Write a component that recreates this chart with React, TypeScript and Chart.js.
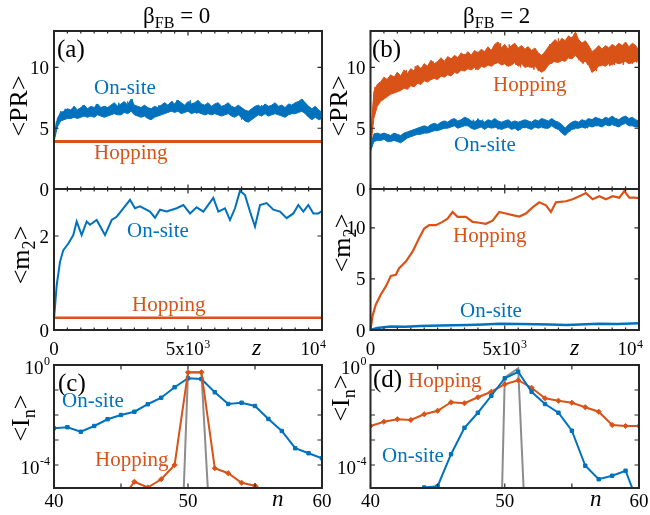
import React, { useEffect, useRef } from 'react';
import { Chart, registerables } from 'chart.js';
Chart.register(...registerables);

const BLUE = '#0072BD';
const ORANGE = '#D95319';
const GRAY = '#8C8C8C';
const AXIS = '#262626';
const FONT = '"Liberation Serif", "Times New Roman", serif';

// ---------- (a) <PR>, beta_FB = 0 : fluctuation band (upper / lower edge), uniform z grid 0..1e4 ----------
const prOnsiteAUp = [4.1, 5.8, 6.3, 6.4, 6.6, 6.5, 6.8, 6.5, 6.7, 6.9, 6.6, 6.8, 6.7, 7.0, 6.7, 6.8, 6.7, 6.9, 7.1, 6.8,
  7.0, 7.2, 6.9, 7.4, 6.9, 6.8, 6.7, 6.9, 6.7, 6.6, 6.8, 6.7, 6.9, 7.1, 6.9, 7.2, 7.0, 7.3, 7.1, 6.9,
  7.2, 7.0, 7.1, 7.3, 7.0, 6.9, 7.1, 6.8, 7.0, 7.1, 6.8, 6.9, 7.1, 6.8, 6.7, 6.9, 6.7, 6.5, 6.4, 6.6,
  6.8, 6.9, 6.7, 7.0, 6.8, 6.9, 7.1, 6.8, 6.9, 6.7, 7.0, 6.9, 7.1, 7.2, 7.4, 7.1, 6.8, 6.6, 6.8, 6.5, 6.3];
const prOnsiteALow = [3.9, 5.1, 5.6, 5.7, 5.8, 5.8, 5.9, 5.8, 5.9, 6.0, 5.9, 6.0, 5.9, 6.1, 6.0, 5.9, 6.0, 6.1, 6.2, 6.1,
  6.1, 6.3, 6.2, 6.4, 6.1, 6.0, 5.9, 6.0, 5.8, 5.7, 5.9, 6.0, 6.1, 6.2, 6.3, 6.4, 6.3, 6.4, 6.2, 6.3,
  6.4, 6.2, 6.3, 6.3, 6.2, 6.1, 6.2, 6.1, 6.2, 6.1, 6.0, 6.1, 6.2, 6.0, 5.9, 6.1, 5.9, 5.6, 5.5, 5.7,
  5.9, 6.1, 6.0, 6.2, 6.0, 6.1, 6.2, 6.1, 6.0, 5.9, 6.1, 6.2, 6.2, 6.3, 6.4, 6.2, 5.9, 5.7, 5.9, 5.7, 5.8];
// fast fluctuations on top of the band
const prOnsiteA = [4.0, 5.5, 5.7, 6.4, 5.9, 6.6, 6.0, 6.5, 6.1, 6.8, 6.0, 6.6, 6.1, 6.9, 6.2, 6.6, 6.0, 6.7, 6.3, 7.0,
  6.1, 6.6, 6.2, 6.8, 6.0, 6.7, 6.3, 6.9, 6.2, 7.1, 6.3, 6.8, 6.4, 7.2, 6.5, 7.4, 6.3, 6.8, 6.1, 6.7,
  6.2, 6.6, 6.0, 6.5, 5.9, 6.6, 6.1, 6.9, 6.3, 7.0, 6.4, 6.9, 6.5, 7.2, 6.4, 7.3, 6.6, 7.0, 6.3, 6.9,
  6.5, 7.3, 6.4, 7.0, 6.2, 6.8, 6.3, 6.9, 6.1, 6.7, 6.2, 6.9, 6.3, 6.7, 6.1, 6.8, 6.4, 7.0, 6.2, 6.7,
  6.0, 6.6, 6.1, 6.5, 5.7, 6.3, 5.8, 6.4, 5.9, 6.6, 6.1, 6.8, 6.2, 6.9, 6.3, 6.7, 6.1, 6.8, 6.3, 7.0,
  6.2, 6.8, 6.1, 6.6, 6.3, 6.9, 6.2, 7.0, 6.4, 7.1, 6.5, 7.4, 6.4, 7.0, 6.2, 6.6, 5.9, 6.5, 6.0, 6.4, 6.1];
const prHopZA = [0, 10000];
const prHopA = [3.9, 3.9];

// ---------- (b) <PR>, beta_FB = 2 : fluctuation bands ----------
const prHopBUp = [3.6, 8.0, 8.6, 8.8, 9.2, 9.0, 9.4, 9.2, 9.6, 9.3, 9.8, 9.5, 9.9, 9.7, 10.2, 9.9, 10.3, 10.1, 10.6, 10.3,
  10.5, 10.8, 10.5, 10.9, 10.7, 11.0, 10.8, 11.2, 11.0, 11.3, 11.0, 11.4, 11.2, 11.5, 11.3, 11.7, 11.4, 11.9, 12.1, 11.6,
  11.9, 11.5, 11.8, 12.0, 11.6, 11.8, 11.5, 11.7, 11.4, 11.6, 11.2, 11.0, 11.3, 11.7, 12.0, 12.3, 12.0, 12.4, 12.2, 12.6,
  12.4, 12.9, 12.3, 12.0, 12.2, 11.8, 11.3, 11.5, 11.8, 11.5, 11.8, 11.6, 11.9, 11.7, 12.0, 11.8, 12.1, 11.7, 12.0, 11.8, 11.4];
const prHopBLow = [3.3, 5.8, 6.8, 7.2, 7.4, 7.6, 7.8, 7.9, 8.0, 8.1, 8.3, 8.2, 8.5, 8.4, 8.7, 8.6, 8.9, 8.8, 9.0, 9.1,
  9.0, 9.3, 9.2, 9.4, 9.3, 9.6, 9.5, 9.8, 9.7, 9.9, 9.8, 10.0, 9.8, 10.1, 10.0, 10.2, 10.1, 10.3, 10.4, 10.2,
  10.3, 10.1, 10.2, 10.4, 10.1, 10.3, 10.0, 10.1, 10.0, 10.1, 9.8, 9.6, 9.8, 10.2, 10.4, 10.5, 10.4, 10.6, 10.5, 10.8,
  10.7, 11.0, 10.7, 10.4, 10.5, 10.2, 9.6, 9.8, 10.1, 10.2, 10.1, 10.3, 10.2, 10.4, 10.3, 10.4, 10.5, 10.3, 10.4, 10.5, 10.6];
const prHopB = [3.4, 6.6, 8.4, 7.0, 8.8, 7.3, 9.0, 7.6, 9.2, 7.8, 9.3, 8.0, 9.6, 8.1, 9.4, 8.3, 9.8, 8.4, 9.7, 8.6,
  10.1, 8.7, 10.0, 8.8, 10.3, 8.9, 10.2, 9.0, 10.5, 9.1, 10.4, 9.2, 10.6, 9.3, 10.7, 9.4, 10.6, 9.5, 10.9, 9.6,
  11.0, 9.7, 11.1, 9.8, 11.2, 9.9, 11.1, 9.8, 11.3, 10.0, 11.2, 10.1, 11.5, 10.2, 11.4, 10.3, 11.8, 10.4, 12.0, 10.2,
  11.6, 10.1, 11.9, 10.3, 11.7, 10.2, 11.6, 10.0, 11.5, 10.1, 11.7, 10.0, 11.4, 9.8, 11.1, 9.7, 11.0, 9.8, 11.3, 10.2,
  11.9, 10.3, 12.1, 10.4, 12.4, 10.5, 12.0, 10.6, 12.3, 10.7, 12.5, 10.9, 12.8, 10.6, 11.9, 10.3, 11.8, 10.2, 11.6, 9.6,
  11.2, 9.7, 11.5, 10.1, 11.6, 10.2, 11.7, 10.1, 11.5, 10.2, 11.8, 10.3, 11.7, 10.2, 11.9, 10.4, 11.6, 10.3, 11.8, 10.4, 11.1];
const prOnsiteBUp = [3.5, 4.5, 4.6, 4.5, 4.6, 4.5, 4.4, 4.6, 4.5, 4.4, 4.6, 4.7, 4.8, 4.9, 5.0, 5.1, 5.2, 5.1, 5.3, 5.4,
  5.3, 5.5, 5.6, 5.5, 5.7, 5.8, 5.6, 5.7, 5.9, 5.8, 5.6, 5.5, 5.7, 5.6, 5.5, 5.7, 5.6, 5.8, 5.6, 5.5,
  5.6, 5.7, 5.5, 5.6, 5.5, 5.6, 5.7, 5.6, 5.5, 5.7, 5.6, 5.8, 5.7, 5.6, 5.8, 5.6, 5.5, 5.3, 5.0, 5.3,
  5.5, 5.6, 5.5, 5.7, 5.6, 5.8, 5.7, 5.9, 5.8, 5.7, 5.9, 5.8, 6.0, 5.8, 5.7, 5.9, 6.0, 5.8, 5.9, 5.7, 5.6];
const prOnsiteBLow = [3.1, 3.9, 4.0, 4.0, 4.1, 3.9, 3.9, 4.0, 3.9, 3.8, 4.0, 4.2, 4.3, 4.4, 4.5, 4.5, 4.6, 4.6, 4.7, 4.8,
  4.8, 4.9, 5.0, 5.0, 5.1, 5.2, 5.0, 5.1, 5.2, 5.2, 5.0, 4.9, 5.0, 5.1, 4.9, 5.1, 5.0, 5.1, 5.0, 4.9,
  5.0, 5.1, 4.9, 5.0, 4.8, 5.0, 5.1, 5.0, 4.9, 5.1, 5.0, 5.1, 5.0, 5.0, 5.2, 5.0, 4.9, 4.6, 4.4, 4.7,
  4.9, 5.0, 5.0, 5.1, 5.0, 5.2, 5.1, 5.2, 5.2, 5.1, 5.3, 5.2, 5.3, 5.2, 5.1, 5.3, 5.4, 5.2, 5.2, 5.1, 5.1];
const prOnsiteB = [3.3, 4.2, 4.6, 4.1, 4.5, 4.0, 4.6, 4.2, 4.5, 4.1, 4.4, 4.0, 4.3, 3.9, 4.4, 4.1, 4.6, 4.3, 4.8, 4.4,
  4.9, 4.5, 4.8, 4.6, 5.0, 4.7, 5.1, 4.8, 5.2, 4.9, 5.2, 4.9, 5.3, 5.0, 5.4, 5.1, 5.5, 5.2, 5.6, 5.1,
  5.5, 5.2, 5.7, 5.3, 5.6, 5.2, 5.7, 5.3, 5.8, 5.4, 5.7, 5.3, 5.6, 5.2, 5.5, 5.0, 5.3, 4.9, 5.4, 5.0,
  5.5, 5.1, 5.4, 5.0, 5.5, 5.1, 5.3, 4.9, 5.4, 5.0, 5.5, 5.1, 5.4, 5.2, 5.6, 5.1, 5.5, 5.0, 5.4, 5.1,
  5.5, 5.2, 5.6, 5.0, 5.3, 4.8, 5.0, 4.5, 4.9, 4.7, 5.2, 4.9, 5.4, 5.0, 5.3, 5.1, 5.5, 5.0, 5.4, 5.1,
  5.6, 5.2, 5.5, 5.1, 5.6, 5.3, 5.7, 5.2, 5.6, 5.3, 5.8, 5.3, 5.7, 5.4, 5.9, 5.3, 5.7, 5.2, 5.6, 5.3, 5.2];

// ---------- (a) <m2>, beta_FB = 0 ----------
const m2ZA = [0, 100, 224, 348, 535, 721, 846, 1032, 1219, 1343, 1592, 1903, 2152, 2338, 2587, 2836, 3022, 3209, 3582, 3769,
  3955, 4204, 4577, 4826, 5075, 5323, 5572, 5945, 6132, 6381, 6567, 6754, 6940, 7127, 7313, 7500, 7687, 7935, 8184, 8433,
  8682, 8930, 9117, 9303, 9490, 9677, 9863, 10000];
const m2OnsiteA = [0.23, 0.95, 1.45, 1.70, 1.84, 2.02, 2.31, 2.02, 2.31, 2.24, 2.34, 2.02, 2.34, 2.41, 2.59, 2.77, 2.59, 2.63, 2.52, 2.39,
  2.56, 2.52, 2.59, 2.66, 2.48, 2.61, 2.52, 2.81, 2.52, 2.59, 2.34, 2.59, 2.96, 2.87, 2.52, 2.20, 2.66, 2.70, 2.56, 2.52,
  2.38, 2.48, 2.66, 2.52, 2.66, 2.48, 2.48, 2.53];
const m2HopZA = [0, 10000];
const m2HopA = [0.26, 0.26];

// ---------- (b) <m2>, beta_FB = 2 ----------
const m2ZB = [0, 75, 199, 385, 571, 758, 944, 1068, 1317, 1565, 1814, 2000, 2186, 2435, 2683, 2870, 3056, 3242, 3553, 3801,
  4050, 4298, 4547, 4795, 5043, 5292, 5540, 5789, 6037, 6286, 6534, 6720, 6907, 7280, 7528, 7776, 8025, 8273, 8522, 8770,
  9019, 9267, 9453, 9640, 9826, 10000];
const m2HopB = [0, 1.36, 2.5, 3.47, 4.27, 5.3, 5.4, 6.05, 6.7, 7.67, 9.0, 9.93, 10.26, 10.26, 10.58, 10.9, 11.55, 11.07, 11.07, 10.58,
  10.5, 10.4, 10.7, 11.55, 11.4, 11.25, 11.1, 11.4, 12.0, 12.5, 12.2, 11.55, 12.5, 12.6, 12.8, 13.1, 13.4, 12.8, 13.1, 12.8,
  13.1, 12.95, 13.6, 12.95, 12.95, 12.9];
const m2OnZB = [0, 250, 750, 1300, 1850, 2600, 3600, 4200, 4800, 5600, 6700, 7300, 8500, 9200, 10000];
const m2OnsiteB = [0, 0.2, 0.35, 0.33, 0.4, 0.45, 0.5, 0.55, 0.6, 0.58, 0.55, 0.5, 0.6, 0.58, 0.65];

// ---------- (c), (d) <I_n> profiles (log10 values) ----------
const nSites = [40, 41, 42, 43, 44, 45, 46, 47, 48, 49, 50, 51, 52, 53, 54, 55, 56, 57, 58, 59, 60];
const logOnsiteC = [-2.53, -2.49, -2.67, -2.44, -2.17, -2.0, -1.87, -1.57, -1.31, -0.89, -0.53, -0.56, -1.09, -1.56, -1.51, -1.64, -2.16, -2.64, -3.33, -3.53, -3.73];
const nHopC = [45, 46, 47, 48, 49, 50, 51, 52, 53, 54, 55, 56];
const logHopC = [-5.4, -4.67, -4.9, -4.57, -4.0, -0.29, -0.29, -4.13, -4.33, -4.71, -4.83, -5.15];
const nInitC = [49, 50, 51, 52];
const logInitC = [-15, -0.3, -0.3, -10];

const logHopD = [-2.44, -2.27, -2.17, -2.2, -1.97, -1.83, -1.49, -1.53, -1.29, -1.07, -0.77, -0.61, -0.91, -1.33, -1.43, -1.51, -1.69, -1.87, -2.4, -2.44, -2.44];
const nOnD = [44, 45, 46, 47, 48, 49, 50, 51, 52, 53, 54, 55, 56, 57, 58, 59, 60];
const logOnsiteD = [-4.9, -4.85, -3.57, -2.51, -1.91, -1.23, -0.53, -0.27, -1.07, -1.56, -1.91, -2.63, -4.03, -4.57, -4.43, -4.23, -5.63];
const nInitD = [49, 50, 51, 52];
const logInitD = [-23, -0.5, -0.13, -12];

// ---------- helpers ----------
const uniform = (vals: number[]) => vals.map((y, i) => ({ x: (i * 10000) / (vals.length - 1), y }));
const pairs = (xs: number[], ys: number[]) => xs.map((x, i) => ({ x, y: ys[i] }));
const pairsLog = (xs: number[], ys: number[]) => xs.map((x, i) => ({ x, y: Math.pow(10, ys[i]) }));

type Rect = { l: number; t: number; r: number; b: number };
type TL = { v: number; base: string; sup?: string; right?: boolean };
type PanelCfg = {
  rect: Rect;
  xMin: number; xMax: number; yMin: number; yMax: number; log?: boolean;
  datasets: any[];
  xMajor: number[]; xMinor: number[]; yMajor: number[]; yMinor: number[];
  xLabels?: TL[]; xBase?: number; yLabels?: TL[];
};

const supFont = `12px ${FONT}`;
const baseFont = `19px ${FONT}`;

function drawLabel(ctx: CanvasRenderingContext2D, lab: TL, x: number, y: number, align: 'left' | 'right' | 'center', supDy: number) {
  ctx.font = baseFont;
  const wb = ctx.measureText(lab.base).width;
  ctx.font = supFont;
  const ws = lab.sup ? ctx.measureText(lab.sup).width + 0.5 : 0;
  const w = wb + ws;
  let x0 = x - w / 2;
  if (align === 'right') x0 = x - w;
  if (align === 'left') x0 = x;
  ctx.textAlign = 'left';
  ctx.textBaseline = 'alphabetic';
  ctx.fillStyle = '#000';
  ctx.font = baseFont;
  ctx.fillText(lab.base, x0, y);
  if (lab.sup) {
    ctx.font = supFont;
    ctx.fillText(lab.sup, x0 + wb + 0.5, y - supDy);
  }
}

function makeFrame(cfg: PanelCfg) {
  return {
    id: 'frame',
    afterDatasetsDraw(chart: any) {
      const ctx: CanvasRenderingContext2D = chart.ctx;
      const { left, right, top, bottom } = chart.chartArea;
      const xs = chart.scales.x;
      const ys = chart.scales.y;
      ctx.save();
      ctx.strokeStyle = AXIS;
      ctx.lineWidth = 1.2;
      ctx.beginPath();
      const tickX = (v: number, len: number) => {
        const p = xs.getPixelForValue(v);
        ctx.moveTo(p, bottom); ctx.lineTo(p, bottom - len);
        ctx.moveTo(p, top); ctx.lineTo(p, top + len);
      };
      const tickY = (v: number, len: number) => {
        const p = ys.getPixelForValue(v);
        ctx.moveTo(left, p); ctx.lineTo(left + len, p);
        ctx.moveTo(right, p); ctx.lineTo(right - len, p);
      };
      cfg.xMinor.forEach((v) => tickX(v, 2.5));
      cfg.xMajor.forEach((v) => tickX(v, 4.5));
      cfg.yMinor.forEach((v) => tickY(v, 2.5));
      cfg.yMajor.forEach((v) => tickY(v, 4.5));
      ctx.stroke();
      ctx.lineWidth = 2;
      ctx.strokeRect(left, top, right - left, bottom - top);
      (cfg.yLabels || []).forEach((lab) => {
        const p = ys.getPixelForValue(lab.v);
        if (lab.sup) drawLabel(ctx, lab, left - 4, p + 9, 'right', 9);
        else drawLabel(ctx, lab, left - 5, p + 6.5, 'right', 0);
      });
      (cfg.xLabels || []).forEach((lab) => {
        const p = xs.getPixelForValue(lab.v);
        if (lab.right) drawLabel(ctx, lab, p + 4, cfg.xBase || 0, 'right', 7);
        else drawLabel(ctx, lab, p, cfg.xBase || 0, 'center', 7);
      });
      ctx.restore();
    },
  };
}

function Panel({ cfg }: { cfg: PanelCfg }) {
  const ref = useRef<HTMLCanvasElement>(null);
  useEffect(() => {
    const { l, t, r, b } = cfg.rect;
    const chart = new Chart(ref.current as HTMLCanvasElement, {
      type: 'line',
      data: { datasets: cfg.datasets },
      options: {
        responsive: false,
        animation: false,
        layout: { padding: { left: l, top: t, right: 650 - r, bottom: 515 - b } },
        scales: {
          x: { type: 'linear', min: cfg.xMin, max: cfg.xMax, display: false },
          y: { type: cfg.log ? 'logarithmic' : 'linear', min: cfg.yMin, max: cfg.yMax, display: false },
        },
        plugins: { legend: { display: false }, tooltip: { enabled: false } },
        elements: { point: { radius: 0 }, line: { tension: 0 } },
      } as any,
      plugins: [makeFrame(cfg)],
    });
    return () => chart.destroy();
  }, []);
  return <canvas ref={ref} width={650} height={515} style={{ position: 'absolute', left: 0, top: 0 }} />;
}

const line = (data: any[], color: string, width: number) => ({
  data, borderColor: color, backgroundColor: color, borderWidth: width, pointRadius: 0, fill: false,
});
// fluctuation band: upper edge filled down to the following (lower-edge) dataset
const bandUp = (data: any[], color: string) => ({
  data, borderColor: color, backgroundColor: color, borderWidth: 1, pointRadius: 0, fill: '+1',
});
const bandLow = (data: any[], color: string) => ({
  data, borderColor: color, backgroundColor: color, borderWidth: 1, pointRadius: 0, fill: false,
});
const marked = (data: any[], color: string, style: string, r: number) => ({
  data, borderColor: color, backgroundColor: color, borderWidth: 2, pointRadius: r, pointStyle: style,
  pointBorderWidth: 1, fill: false,
});

const zMinor = [500, 1000, 1500, 2000, 2500, 3000, 3500, 4000, 4500, 5500, 6000, 6500, 7000, 7500, 8000, 8500, 9000, 9500];
const zMajor = [0, 5000, 10000];
const zLabels: TL[] = [
  { v: 0, base: '0' },
  { v: 5000, base: '5x10', sup: '3' },
  { v: 10000, base: '10', sup: '4', right: true },
];
const nLabels: TL[] = [{ v: 40, base: '40' }, { v: 50, base: '50' }, { v: 60, base: '60' }];
const logLabels: TL[] = [{ v: 1, base: '10', sup: '0' }, { v: 1e-4, base: '10', sup: '-4' }];
const decades = [1, 0.1, 0.01, 0.001, 0.0001];

const A_TOP: PanelCfg = {
  rect: { l: 54, t: 31, r: 322, b: 189 }, xMin: 0, xMax: 10000, yMin: 0, yMax: 13,
  datasets: [
    line(pairs(prHopZA, prHopA), ORANGE, 3),
    line(uniform(prOnsiteA), BLUE, 1),
    bandUp(uniform(prOnsiteAUp), BLUE), bandLow(uniform(prOnsiteALow), BLUE),
  ],
  xMajor: zMajor, xMinor: zMinor, yMajor: [0, 5, 10], yMinor: [],
  yLabels: [{ v: 0, base: '0' }, { v: 5, base: '5' }, { v: 10, base: '10' }],
};
const B_TOP: PanelCfg = {
  rect: { l: 370.5, t: 31, r: 639, b: 189 }, xMin: 0, xMax: 10000, yMin: 0, yMax: 13,
  datasets: [
    line(uniform(prHopB), ORANGE, 1),
    bandUp(uniform(prHopBUp), ORANGE), bandLow(uniform(prHopBLow), ORANGE),
    line(uniform(prOnsiteB), BLUE, 1),
    bandUp(uniform(prOnsiteBUp), BLUE), bandLow(uniform(prOnsiteBLow), BLUE),
  ],
  xMajor: zMajor, xMinor: zMinor, yMajor: [0, 5, 10], yMinor: [],
  yLabels: [{ v: 0, base: '0' }, { v: 5, base: '5' }, { v: 10, base: '10' }],
};
const A_MID: PanelCfg = {
  rect: { l: 54, t: 189, r: 322, b: 330 }, xMin: 0, xMax: 10000, yMin: 0, yMax: 3,
  datasets: [line(pairs(m2HopZA, m2HopA), ORANGE, 2.5), line(pairs(m2ZA, m2OnsiteA), BLUE, 2)],
  xMajor: zMajor, xMinor: zMinor, yMajor: [0, 2], yMinor: [],
  yLabels: [{ v: 0, base: '0' }, { v: 2, base: '2' }], xLabels: zLabels, xBase: 355,
};
const B_MID: PanelCfg = {
  rect: { l: 370.5, t: 189, r: 639, b: 330 }, xMin: 0, xMax: 10000, yMin: 0, yMax: 13.8,
  datasets: [line(pairs(m2ZB, m2HopB), ORANGE, 2.2), line(pairs(m2OnZB, m2OnsiteB), BLUE, 2.5)],
  xMajor: zMajor, xMinor: zMinor, yMajor: [0, 5, 10], yMinor: [],
  yLabels: [{ v: 0, base: '0' }, { v: 5, base: '5' }, { v: 10, base: '10' }], xLabels: zLabels, xBase: 355,
};
const C_BOT: PanelCfg = {
  rect: { l: 54, t: 365, r: 322, b: 488 }, xMin: 40, xMax: 60, yMin: 1.2e-5, yMax: 1, log: true,
  datasets: [
    marked(pairsLog(nHopC, logHopC), ORANGE, 'rectRot', 2.6),
    marked(pairsLog(nSites, logOnsiteC), BLUE, 'rect', 2.4),
    line(pairsLog(nInitC, logInitC), GRAY, 2),
  ],
  xMajor: [40, 45, 50, 55, 60], xMinor: [], yMajor: decades, yMinor: [],
  yLabels: logLabels, xLabels: nLabels, xBase: 507,
};
const D_BOT: PanelCfg = {
  rect: { l: 370.5, t: 365, r: 639, b: 488 }, xMin: 40, xMax: 60, yMin: 1.2e-5, yMax: 1, log: true,
  datasets: [
    marked(pairsLog(nOnD, logOnsiteD), BLUE, 'rect', 2.4),
    marked(pairsLog(nSites, logHopD), ORANGE, 'rectRot', 2.6),
    line(pairsLog(nInitD, logInitD), GRAY, 2),
  ],
  xMajor: [40, 45, 50, 55, 60], xMinor: [], yMajor: decades, yMinor: [],
  yLabels: logLabels, xLabels: nLabels, xBase: 507,
};

const Txt = ({ x, b, size, color = '#000', italic = false, children }: any) => (
  <div style={{
    position: 'absolute', left: x, top: b - 0.8375 * size, fontSize: size, lineHeight: 1, color,
    fontStyle: italic ? 'italic' : 'normal', whiteSpace: 'nowrap',
  }}>{children}</div>
);
const Sub = ({ children }: any) => (
  <span style={{ fontSize: '0.7em', position: 'relative', top: '0.32em' }}>{children}</span>
);
const VTxt = ({ cx, cy, size, children }: any) => (
  <div style={{
    position: 'absolute', left: cx, top: cy, fontSize: size, lineHeight: 1, whiteSpace: 'nowrap',
    transform: 'translate(-50%, -50%) rotate(-90deg)',
  }}>{children}</div>
);

export default function App() {
  return (
    <div style={{ position: 'absolute', left: 0, top: 0, width: 650, height: 515, background: '#fff', fontFamily: FONT, overflow: 'hidden' }}>
      <Panel cfg={A_TOP} />
      <Panel cfg={B_TOP} />
      <Panel cfg={A_MID} />
      <Panel cfg={B_MID} />
      <Panel cfg={C_BOT} />
      <Panel cfg={D_BOT} />

      <Txt x={143} b={23} size={23}>β<Sub>FB</Sub> = 0</Txt>
      <Txt x={463} b={23} size={23}>β<Sub>FB</Sub> = 2</Txt>

      <Txt x={57} b={57} size={25}>(a)</Txt>
      <Txt x={372} b={57} size={25}>(b)</Txt>
      <Txt x={58} b={391} size={25}>(c)</Txt>
      <Txt x={373} b={387} size={25}>(d)</Txt>

      <VTxt cx={19} cy={106} size={26}>&lt;PR&gt;</VTxt>
      <VTxt cx={339} cy={106} size={26}>&lt;PR&gt;</VTxt>
      <VTxt cx={21} cy={255} size={26}>&lt;m<Sub>2</Sub>&gt;</VTxt>
      <VTxt cx={342} cy={243} size={26}>&lt;m<Sub>2</Sub>&gt;</VTxt>
      <VTxt cx={21} cy={418} size={26}>&lt;I<Sub>n</Sub>&gt;</VTxt>
      <VTxt cx={341} cy={398} size={26}>&lt;I<Sub>n</Sub>&gt;</VTxt>

      <Txt x={252} b={355} size={24} italic>z</Txt>
      <Txt x={570} b={355} size={24} italic>z</Txt>
      <Txt x={272} b={506} size={23} italic>n</Txt>
      <Txt x={590} b={506} size={23} italic>n</Txt>

      <Txt x={94} b={95} size={21} color={BLUE}>On-site</Txt>
      <Txt x={94} b={160} size={21} color={ORANGE}>Hopping</Txt>
      <Txt x={493} b={92} size={21} color={ORANGE}>Hopping</Txt>
      <Txt x={454} b={152} size={21} color={BLUE}>On-site</Txt>
      <Txt x={127} b={238} size={21} color={BLUE}>On-site</Txt>
      <Txt x={132} b={312} size={21} color={ORANGE}>Hopping</Txt>
      <Txt x={453} b={243} size={21} color={ORANGE}>Hopping</Txt>
      <Txt x={460} b={318} size={21} color={BLUE}>On-site</Txt>
      <Txt x={62} b={408} size={21} color={BLUE}>On-site</Txt>
      <Txt x={95} b={467} size={21} color={ORANGE}>Hopping</Txt>
      <Txt x={408} b={388} size={21} color={ORANGE}>Hopping</Txt>
      <Txt x={382} b={463} size={21} color={BLUE}>On-site</Txt>
    </div>
  );
}
